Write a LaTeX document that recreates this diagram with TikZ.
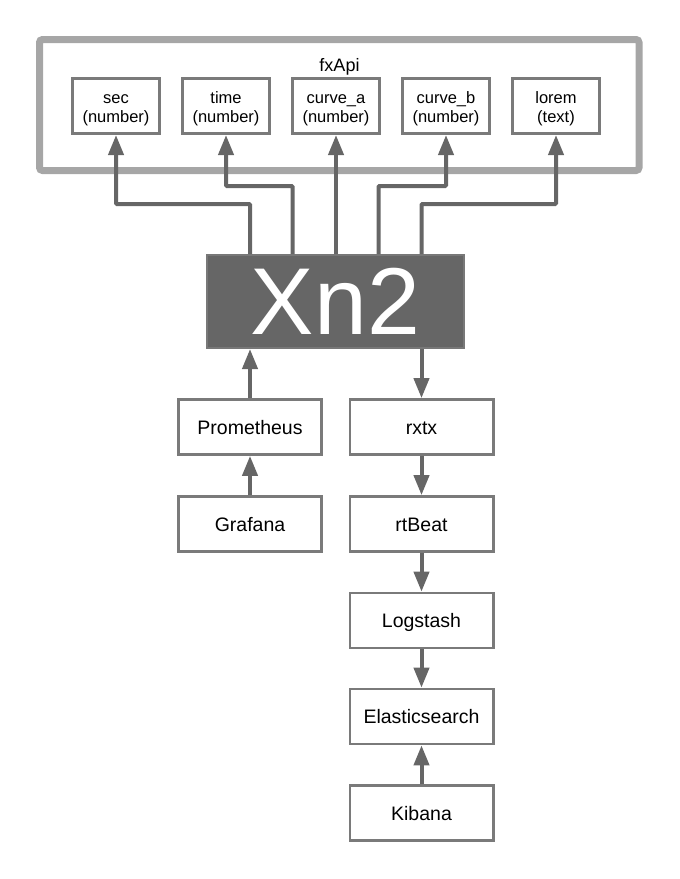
\documentclass[tikz,border=0pt]{standalone}
\usepackage{fontspec}
\setmainfont{Liberation Sans}
\usetikzlibrary{arrows.meta,calc}
\definecolor{frameg}{HTML}{A6A6A6}
\definecolor{boxg}{HTML}{7A7A7A}
\definecolor{arrg}{HTML}{666666}
\definecolor{xnfill}{HTML}{666666}
\definecolor{xnline}{HTML}{787878}
\newcommand{\fieldtext}[2]{\rule{0pt}{18pt}#1\\#2}
\begin{document}
\begin{tikzpicture}[x=1pt,y=-1pt,
  field/.style={draw=boxg,line width=2.7pt,fill=white,minimum width=87.3pt,minimum height=55.3pt,inner sep=0pt,align=center,font=\fontsize{16.5}{19}\selectfont},
  comp/.style={draw=boxg,line width=2.7pt,fill=white,minimum width=143.3pt,minimum height=55pt,inner sep=0pt,text height=14pt,text depth=0pt,font=\fontsize{19.5}{22}\selectfont},
  arr/.style={draw=arrg,line width=4pt,-{Triangle[width=15pt,length=20pt]},rounded corners=1pt},
  framebox/.style={draw=frameg,line width=7pt,rounded corners=3pt,minimum width=599.5pt,minimum height=131pt,inner sep=0pt},
  xnbox/.style={draw=xnline,fill=xnfill,line width=2pt,minimum width=257pt,minimum height=93pt,inner sep=0pt,text=white,font=\fontsize{95}{95}\selectfont}]
\useasboundingbox (0,0) rectangle (680,879);
% fxApi frame
\node[framebox] (fx) at (339.25,105) {};
\node[anchor=base,font=\fontsize{18}{20}\selectfont] (fxlabel) at (339.5,71.5) {fxApi};
\node[field] (sec) at (116,106) {\fieldtext{sec}{(number)}};
\node[field] (time) at (226,106) {\fieldtext{time}{(number)}};
\node[field] (cva) at (336,106) {\fieldtext{curve\_a}{(number)}};
\node[field] (cvb) at (446,106) {\fieldtext{curve\_b}{(number)}};
\node[field] (lorem) at (556,106) {\fieldtext{lorem}{(text)}};
% Xn2
\node[xnbox] (xn) at (335.5,301.5) {Xn2};
% lower boxes
\node[comp] (prom) at (250,427) {Prometheus};
\node[comp] (graf) at (250,524) {Grafana};
\node[comp] (rxtx) at (421.5,427) {rxtx};
\node[comp] (rtb) at (421.5,524) {rtBeat};
\node[comp] (logs) at (421.5,620.5) {Logstash};
\node[comp] (es) at (421.5,716.5) {Elasticsearch};
\node[comp] (kib) at (421.5,813) {Kibana};
% connectors up to fxApi fields
\draw[arr] (xn.north -| prom) -- ++(0,-50) -| (sec.south);
\draw[arr] ($(xn.north)+(-43,0)$) -- ++(0,-68) -| (time.south);
\draw[arr] (xn.north -| cva) -- (cva.south);
\draw[arr] ($(xn.north)+(43,0)$) -- ++(0,-68) -| (cvb.south);
\draw[arr] (xn.north -| rxtx) -- ++(0,-50) -| (lorem.south);
% lower connectors
\draw[arr] (prom.north) -- (prom.north |- xn.south);
\draw[arr] (xn.south -| rxtx) -- (rxtx.north);
\draw[arr] (graf.north) -- (prom.south);
\draw[arr] (rxtx.south) -- (rtb.north);
\draw[arr] (rtb.south) -- (logs.north);
\draw[arr] (logs.south) -- (es.north);
\draw[arr] (kib.north) -- (es.south);
\end{tikzpicture}
\end{document}
